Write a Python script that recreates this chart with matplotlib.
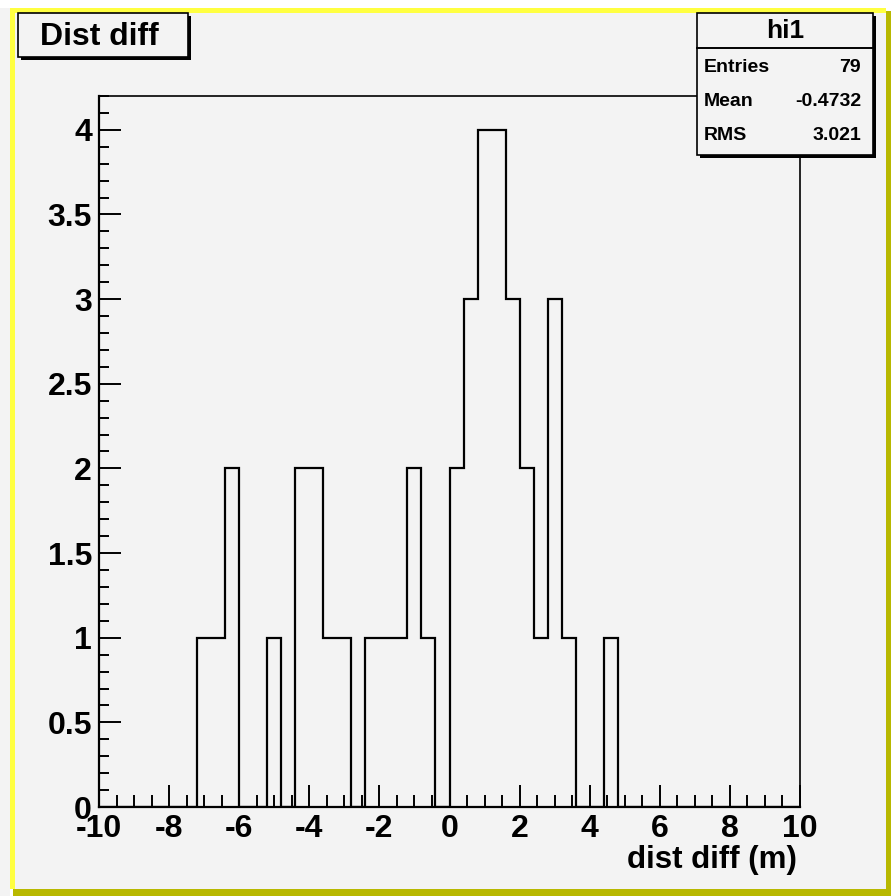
# ROOT-style histogram "hi1": distance difference, 50 bins from -10 to 10.

import matplotlib
matplotlib.use('Agg')
import matplotlib.pyplot as plt
from matplotlib.patches import Rectangle
from matplotlib.ticker import MultipleLocator
import numpy as np

# ----- data -----
bin_edges = np.linspace(-10, 10, 51)
counts = [0, 0, 0, 0, 0, 0, 0, 1, 1, 2,
          0, 0, 1, 0, 2, 2, 1, 1, 0, 1,
          1, 1, 2, 1, 0, 2, 3, 4, 4, 3,
          2, 1, 3, 1, 0, 0, 1, 0, 0, 0,
          0, 0, 0, 0, 0, 0, 0, 0, 0, 0]
hist_name = 'hi1'
hist_title = 'Dist diff'
x_title = 'dist diff (m)'
stat_names = ['Entries', 'Mean', 'RMS']
stat_values = ['79', '-0.4732', '3.021']

W, H = 891, 896
GRAY = '#f3f3f3'
plt.rcParams['font.family'] = ['Liberation Sans', 'DejaVu Sans']
plt.rcParams['font.weight'] = 'bold'
plt.rcParams['axes.unicode_minus'] = False


def fx(x):
    return x / W


def fy(y):
    return 1 - y / H


def box(fig, x0, y0, x1, y1, **kw):
    # rectangle given in pixel coords, origin top-left
    r = Rectangle((fx(x0), fy(y1)), fx(x1) - fx(x0), fy(y0) - fy(y1),
                  transform=fig.transFigure, **kw)
    fig.patches.append(r)
    return r


fig = plt.figure(figsize=(W / 100, H / 100), dpi=100)
fig.patch.set_facecolor('white')

# canvas bevel border (yellow light / olive dark)
box(fig, 0, 8, 10, 896, facecolor=GRAY, edgecolor='none', zorder=0)
box(fig, 13, 11, 891, 896, facecolor='#b8b800', edgecolor='none', zorder=0)
box(fig, 10, 8, 886, 889, facecolor='#ffff40', edgecolor='none', zorder=0)
box(fig, 15, 13, 886, 889, facecolor=GRAY, edgecolor='none', zorder=0)

# ----- histogram frame -----
ax = fig.add_axes([fx(99), fy(807), fx(800) - fx(99), fy(96) - fy(807)])
ax.set_zorder(2)
ax.set_facecolor(GRAY)
ax.stairs(counts, bin_edges, color='black', linewidth=1.6, baseline=0)
ax.set_xlim(-10, 10)
ax.set_ylim(0, 4.2)
ax.xaxis.set_major_locator(MultipleLocator(2))
ax.xaxis.set_minor_locator(MultipleLocator(0.5))
ax.yaxis.set_major_locator(MultipleLocator(0.5))
ax.yaxis.set_minor_locator(MultipleLocator(0.1))
ax.yaxis.set_major_formatter(plt.FuncFormatter(lambda v, p: '%g' % v))
ax.tick_params(which='both', direction='in', width=1.4, labelsize=23)
ax.tick_params(axis='x', which='major', length=16, pad=5)
ax.tick_params(axis='x', which='minor', length=9)
ax.tick_params(axis='y', which='major', length=16, pad=5)
ax.tick_params(axis='y', which='minor', length=7.5)
for s in ax.spines.values():
    s.set_linewidth(1.6)
ax.spines['top'].set_linewidth(1.2)
ax.spines['right'].set_linewidth(1.2)

fig.text(fx(797), fy(860), x_title, ha='right', va='center', fontsize=22.5,
         fontweight='bold', zorder=3)

# ----- title box -----
box(fig, 21, 16, 191, 60, facecolor='black', edgecolor='none', zorder=5)
box(fig, 18, 13, 188, 57, facecolor=GRAY, edgecolor='black', linewidth=1.2, zorder=6)
fig.text(fx(99), fy(37), hist_title, ha='center', va='center', fontsize=23,
         fontweight='bold', zorder=7)

# ----- stats box -----
box(fig, 700, 16, 876, 158, facecolor='black', edgecolor='none', zorder=5)
box(fig, 697, 13, 873, 155, facecolor=GRAY, edgecolor='black', linewidth=1.2, zorder=6)
fig.add_artist(plt.Line2D([fx(697), fx(873)], [fy(48), fy(48)], color='black',
                          linewidth=1.4, transform=fig.transFigure, zorder=7))
fig.text(fx(785), fy(31), hist_name, ha='center', va='center', fontsize=19,
         fontweight='bold', zorder=7)
for i, (n, v) in enumerate(zip(stat_names, stat_values)):
    y = 67 + i * 34.5
    fig.text(fx(704), fy(y), n, ha='left', va='center', fontsize=14,
             fontweight='bold', zorder=7)
    fig.text(fx(861), fy(y), v, ha='right', va='center', fontsize=14,
             fontweight='bold', zorder=7)

fig.savefig('out.png', dpi=100, facecolor=fig.get_facecolor())
plt.close(fig)
